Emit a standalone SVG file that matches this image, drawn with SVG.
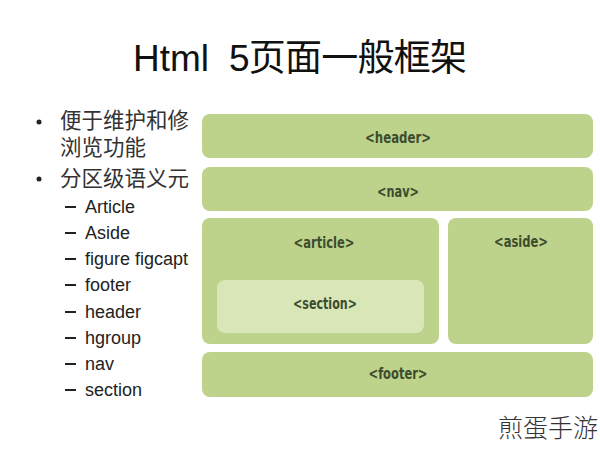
<svg xmlns="http://www.w3.org/2000/svg" width="600" height="449" viewBox="0 0 600 449">
<defs>
<style>
.box{fill:#bdd38b;}
.sec{fill:#d9e7b8;}
.lbl{font-family:"DejaVu Sans Condensed","Liberation Sans Narrow","Liberation Sans",sans-serif;font-size:16px;font-weight:bold;fill:#3d4c2e;text-anchor:middle;}
.title{font-family:"Liberation Sans","Noto Sans CJK SC",sans-serif;font-size:37px;fill:#111;}
.cjk{font-family:"Liberation Sans","Noto Sans CJK SC",sans-serif;font-size:21.5px;fill:#333;}
.item{font-family:"Liberation Sans",sans-serif;font-size:18px;fill:#222;}
.wm{font-family:"Noto Sans CJK SC",sans-serif;font-size:25px;fill:#333;font-weight:300;}
</style>
<clipPath id="lc"><rect x="0" y="100" width="189" height="310"/></clipPath>
</defs>
<rect width="600" height="449" fill="#ffffff"/>
<text class="title" x="133" y="71">Html</text>
<text class="title" x="229" y="71" textLength="238" lengthAdjust="spacing">5页面一般框架</text>
<g id="list" clip-path="url(#lc)">
<circle cx="39" cy="122" r="2.5" fill="#222"/>
<text class="cjk" x="60" y="128">便于维护和修改</text>
<text class="cjk" x="60" y="155">浏览功能</text>
<circle cx="39" cy="179" r="2.5" fill="#222"/>
<text class="cjk" x="60" y="186">分区级语义元素</text>
<g class="item">
<rect x="65" y="206" width="11" height="2" fill="#222"/>
<rect x="65" y="232" width="11" height="2" fill="#222"/>
<rect x="65" y="258" width="11" height="2" fill="#222"/>
<rect x="65" y="284" width="11" height="2" fill="#222"/>
<rect x="65" y="311" width="11" height="2" fill="#222"/>
<rect x="65" y="337" width="11" height="2" fill="#222"/>
<rect x="65" y="363" width="11" height="2" fill="#222"/>
<rect x="65" y="389" width="11" height="2" fill="#222"/>
<text x="85" y="213">Article</text>
<text x="85" y="239">Aside</text>
<text x="85" y="265">figure figcaption</text>
<text x="85" y="291">footer</text>
<text x="85" y="318">header</text>
<text x="85" y="344">hgroup</text>
<text x="85" y="370">nav</text>
<text x="85" y="396">section</text>
</g>
</g>
<g id="header"><rect class="box" x="202" y="114" width="391" height="44" rx="8"/><text class="lbl" x="398" y="143" textLength="66" lengthAdjust="spacingAndGlyphs">&lt;header&gt;</text></g>
<g id="nav"><rect class="box" x="202" y="167" width="391" height="44" rx="8"/><text class="lbl" x="398" y="197" textLength="42" lengthAdjust="spacingAndGlyphs">&lt;nav&gt;</text></g>
<g id="article"><rect class="box" x="202" y="218" width="237" height="126" rx="8"/><text class="lbl" x="324" y="248" textLength="61" lengthAdjust="spacingAndGlyphs">&lt;article&gt;</text></g>
<g id="section"><rect class="sec" x="217" y="280" width="207" height="53" rx="8"/><text class="lbl" x="325" y="309" textLength="64" lengthAdjust="spacingAndGlyphs">&lt;section&gt;</text></g>
<g id="aside"><rect class="box" x="448" y="218" width="145" height="126" rx="8"/><text class="lbl" x="521" y="247" textLength="54" lengthAdjust="spacingAndGlyphs">&lt;aside&gt;</text></g>
<g id="footer"><rect class="box" x="202" y="352" width="391" height="45" rx="8"/><text class="lbl" x="398" y="379" textLength="59" lengthAdjust="spacingAndGlyphs">&lt;footer&gt;</text></g>
<g id="connectors"/>
<text class="wm" x="498" y="437">煎蛋手游</text>
</svg>
